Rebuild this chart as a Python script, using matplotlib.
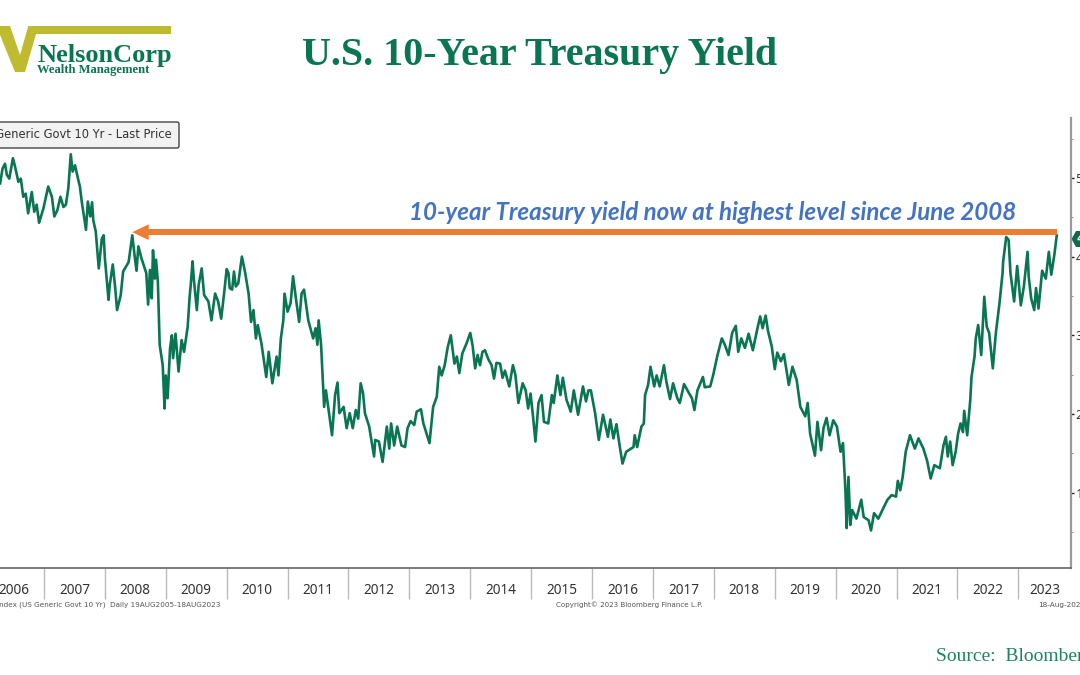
import matplotlib
matplotlib.use("Agg")
import matplotlib.pyplot as plt
from matplotlib.patches import Polygon, FancyBboxPatch

# decimal year / yield pairs
t1 = [2006.28,2006.32,2006.36,2006.39,2006.43,2006.49,2006.52,2006.58,2006.62,2006.66,2006.70,2006.74,2006.80,2006.84,2006.88,2006.92,2006.99,
      2007.07,2007.13,2007.17,2007.22,2007.27,2007.32,2007.36,2007.40,2007.44,2007.47,2007.51,2007.55,2007.59,2007.62,2007.69,2007.72,2007.76,2007.79,2007.81,2007.85,2007.90,2007.95,2007.98,
      2008.00,2008.06,2008.08,2008.13,2008.17,2008.20,2008.26,2008.30,2008.39,2008.45,2008.49,2008.52,2008.55,2008.60,2008.68,2008.71,2008.74,2008.77,2008.79,2008.82,2008.84,2008.87,2008.90,2008.95,2008.98,
      2009.00,2009.03,2009.07,2009.10,2009.12,2009.16,2009.21,2009.26,2009.30,2009.36,2009.39,2009.41,2009.44,2009.46,2009.51,2009.54,2009.59,2009.63,2009.70,2009.75,2009.81,2009.86,2009.91,2009.96]
y1 = [4.93,5.12,5.18,5.04,4.99,5.25,5.16,4.95,4.99,4.76,4.80,4.55,4.82,4.57,4.66,4.43,4.61,
      4.89,4.76,4.51,4.59,4.76,4.63,4.66,4.87,5.30,5.08,5.16,5.02,4.89,4.70,4.34,4.70,4.51,4.69,4.46,4.32,3.85,4.23,4.27,
      3.98,3.45,3.64,3.90,3.60,3.32,3.51,3.81,3.93,4.27,4.00,3.82,4.13,3.98,3.79,3.39,3.83,3.47,4.08,3.72,3.96,3.68,2.88,2.62,2.07,
      2.49,2.20,2.83,3.00,2.71,3.02,2.54,2.94,2.79,3.11,3.47,3.64,3.94,3.72,3.32,3.64,3.85,3.51,3.43,3.19,3.53,3.43,3.21,3.55]

t2 = [2010.00,2010.03,2010.05,2010.09,2010.12,2010.15,2010.19,2010.25,2010.30,2010.36,2010.40,2010.44,2010.48,2010.51,2010.57,2010.65,2010.69,2010.75,2010.82,2010.85,2010.89,2010.93,2010.95,
      2011.00,2011.05,2011.09,2011.14,2011.19,2011.23,2011.27,2011.34,2011.42,2011.46,2011.49,2011.51,2011.55,2011.60,2011.63,2011.67,2011.73,2011.78,2011.82,2011.85,2011.92,2011.97,
      2012.02,2012.07,2012.12,2012.16,2012.20,2012.24,2012.27,2012.34,2012.42,2012.44,2012.50,2012.56,2012.63,2012.67,2012.70,2012.75,2012.80,2012.87,2012.93,2012.97,
      2013.02,2013.08,2013.12,2013.19,2013.23,2013.33,2013.39,2013.45,2013.49,2013.53,2013.58,2013.63,2013.68,2013.74,2013.78,2013.82]
y2 = [3.84,3.79,3.60,3.58,3.81,3.62,3.66,4.00,3.81,3.53,3.17,3.32,2.96,3.13,2.90,2.47,2.79,2.39,2.73,2.49,2.96,3.19,3.53,
      3.30,3.41,3.75,3.45,3.17,3.53,3.58,3.19,2.96,3.09,2.88,3.19,2.88,2.09,2.30,2.07,1.73,2.24,2.40,2.01,2.09,1.82,
      2.01,1.82,2.05,1.94,2.39,2.26,2.01,1.84,1.46,1.67,1.65,1.39,1.84,1.56,1.88,1.60,1.84,1.60,1.58,1.82,
      1.91,1.86,2.03,2.06,1.88,1.63,2.09,2.22,2.60,2.49,2.62,2.85,3.00,2.64,2.73,2.52]

t3 = [2013.87,2013.94,2014.00,2014.04,2014.08,2014.12,2014.16,2014.20,2014.24,2014.30,2014.35,2014.39,2014.43,2014.49,2014.53,2014.57,2014.64,2014.70,2014.74,2014.79,2014.86,2014.91,2014.95,2014.99,
      2015.03,2015.07,2015.12,2015.17,2015.21,2015.28,2015.34,2015.37,2015.43,2015.48,2015.52,2015.58,2015.65,2015.70,2015.77,2015.85,2015.90,2015.94,2015.98,
      2016.05,2016.11,2016.18,2016.26,2016.30,2016.35,2016.40,2016.46,2016.50,2016.56,2016.68,2016.70,2016.74,2016.81,2016.85,2016.87,2016.92,2016.96,
      2017.02,2017.06,2017.11,2017.18,2017.22,2017.28,2017.33,2017.40,2017.44]
y3 = [2.77,2.90,3.03,2.86,2.58,2.75,2.62,2.79,2.81,2.69,2.62,2.45,2.65,2.64,2.46,2.55,2.35,2.62,2.50,2.14,2.39,2.30,2.07,2.26,
      1.97,1.65,2.14,2.24,1.90,1.88,2.24,2.14,2.49,2.24,2.46,2.18,2.03,2.30,1.99,2.35,2.16,2.30,2.30,
      2.01,1.67,1.99,1.71,1.93,1.69,1.87,1.56,1.37,1.52,1.58,1.73,1.58,1.84,1.88,2.24,2.37,2.60,
      2.35,2.49,2.35,2.62,2.41,2.19,2.39,2.20,2.14]

t4 = [2017.51,2017.58,2017.64,2017.68,2017.73,2017.82,2017.85,2017.94,2017.99,
      2018.06,2018.13,2018.18,2018.24,2018.30,2018.36,2018.40,2018.45,2018.51,2018.57,2018.64,2018.71,2018.76,2018.80,2018.85,2018.89,2018.95,
      2019.00,2019.04,2019.10,2019.15,2019.23,2019.29,2019.36,2019.42,2019.50,2019.54,2019.58,2019.66,2019.70,2019.76,2019.80,2019.85,2019.90,2019.96,
      2020.02,2020.08,2020.12,2020.16,2020.18,2020.21,2020.24,2020.27,2020.34,2020.42,2020.46,2020.54,2020.58,2020.63,2020.70,2020.78,2020.85,2020.92,2020.99,
      2021.02,2021.06]
y4 = [2.38,2.28,2.20,2.05,2.30,2.47,2.34,2.35,2.50,
      2.75,2.96,2.88,2.75,3.03,3.12,2.79,2.96,2.84,3.02,2.81,3.07,3.24,3.09,3.25,3.05,2.86,
      2.57,2.78,2.67,2.76,2.37,2.60,2.43,2.09,1.97,2.14,1.75,1.47,1.90,1.54,1.82,1.95,1.73,1.92,
      1.84,1.52,1.63,1.03,0.55,1.20,0.59,0.78,0.67,0.91,0.69,0.65,0.52,0.74,0.67,0.80,0.91,0.97,0.95,
      1.15,1.03]

t5 = [2021.10,2021.15,2021.22,2021.30,2021.36,2021.44,2021.50,2021.56,2021.62,2021.71,2021.77,2021.81,2021.84,2021.88,2021.92,2021.97,
      2022.01,2022.05,2022.09,2022.11,2022.16,2022.21,2022.23,2022.28,2022.30,2022.34,2022.39,2022.44,2022.48,2022.52,2022.58,2022.63,2022.69,2022.74,2022.75,2022.80,2022.84,2022.87,2022.93,2022.98,
      2023.04,2023.09,2023.15,2023.17,2023.21,2023.26,2023.29,2023.33,2023.39,2023.45,2023.50,2023.54,2023.59,2023.63]
y5 = [1.20,1.52,1.73,1.56,1.69,1.56,1.41,1.18,1.35,1.31,1.60,1.71,1.46,1.65,1.35,1.52,
      1.75,1.88,1.77,2.04,1.73,2.18,2.47,2.73,2.96,3.13,2.75,3.49,3.11,3.03,2.58,3.03,3.41,3.79,3.94,4.25,4.21,3.79,3.43,3.88,
      3.38,3.62,4.06,3.74,3.47,3.32,3.60,3.34,3.82,3.72,4.06,3.77,4.02,4.27]

dates = t1 + t2 + t3 + t4 + t5
yields = y1 + y2 + y3 + y4 + y5

year_ticks = list(range(2007, 2024))
year_labels = [str(y) for y in range(2006, 2024)]
label_pos = [y + 0.5 for y in range(2006, 2023)] + [2023.43]
major_y = [1, 2, 3, 4, 5]
minor_y = [0.5, 1.5, 2.5, 3.5, 4.5, 5.5]
arrow_y = 4.31
arrow_from = 2023.63
arrow_to = 2008.45

GREEN = "#0a7553"
ORANGE = "#ed7d31"
W, H = 1080, 675

fig = plt.figure(figsize=(10.8, 6.75), dpi=100)

# pixel overlay for the logo, title and footer
bg = fig.add_axes([0, 0, 1, 1])
bg.set_xlim(0, W)
bg.set_ylim(H, 0)
bg.axis("off")

logo = [(0, 26), (10, 26), (20, 55), (28.3, 26), (171, 26), (171, 34), (36, 34), (25, 72), (15, 72), (0, 35)]
bg.add_patch(Polygon(logo, closed=True, color="#bfbb30", lw=0))
bg.text(37, 62, "NelsonCorp", family="Liberation Serif", weight="bold", fontsize=19, color=GREEN, va="baseline")
bg.text(37, 72.5, "Wealth Management", family="Liberation Serif", weight="bold", fontsize=9.1, color=GREEN, va="baseline")
bg.text(540, 65, "U.S. 10-Year Treasury Yield", family="Liberation Serif", weight="bold", fontsize=28.8,
        color=GREEN, ha="center", va="baseline")

bg.text(936, 661, "Source:  Bloomberg", family="Liberation Serif", fontsize=14, color="#1c8560", va="baseline")
bg.text(220, 605, "USGG10YR Index (US Generic Govt 10 Yr)  Daily 19AUG2005-18AUG2023", family="DejaVu Sans",
        fontsize=5.2, color="#555555", ha="right", va="center")
bg.text(629, 605, "Copyright\u00a9 2023 Bloomberg Finance L.P.", family="DejaVu Sans", fontsize=5.1,
        color="#555555", ha="center", va="center")
bg.text(1038, 605, "18-Aug-2023", family="DejaVu Sans", fontsize=5.2, color="#555555", va="center")

# main chart
ax = fig.add_axes([0, (H - 568) / H, 1070.7 / W, 450 / H])
ax.patch.set_alpha(0)
ax.plot(dates, yields, color=GREEN, lw=1.9, solid_joinstyle="round")
ax.set_xlim(2006.278, 2023.859)
ax.set_ylim(0.043, 5.761)

for s in ["top", "left"]:
    ax.spines[s].set_visible(False)
ax.spines["bottom"].set_color("#666666")
ax.spines["bottom"].set_linewidth(1.2)
ax.spines["right"].set_color("#999999")
ax.spines["right"].set_linewidth(1.6)

ax.set_xticks(year_ticks)
ax.set_xticklabels([])
ax.set_xticks(label_pos, minor=True)
ax.set_xticklabels(year_labels, minor=True, family="Noto Sans", fontsize=9.8, color="#333333")
ax.tick_params(axis="x", which="major", length=22.3, width=1, color="#bbbbbb")
ax.tick_params(axis="x", which="minor", length=0, pad=11)

ax.yaxis.tick_right()
ax.set_yticks(major_y)
ax.set_yticklabels([str(v) for v in major_y], family="Noto Sans", fontsize=9.5, color="#333333")
ax.set_yticks(minor_y, minor=True)
ax.tick_params(axis="y", which="major", length=2.5, width=1, color="#222222", pad=1)
ax.tick_params(axis="y", which="minor", length=1.5, width=0.7, color="#888888")

# arrow back to the June 2008 level
ax.plot([arrow_to + 0.2, arrow_from], [arrow_y, arrow_y], color=ORANGE, lw=4.3, solid_capstyle="butt")
ax.fill([arrow_to, arrow_to + 0.27, arrow_to + 0.27], [arrow_y, arrow_y + 0.1, arrow_y - 0.1], color=ORANGE, lw=0)
ax.text(2013.0, 4.47, "10-year Treasury yield now at highest level since June 2008", family="Lato",
        style="italic", weight="bold", fontsize=17.4, color="#4472c4", va="baseline")

# legend box, runs off the left edge
bg.add_patch(FancyBboxPatch((-20, 122), 199, 26, boxstyle="round,pad=0,rounding_size=2", fc="#f2f2f2", ec="#444444", lw=1, zorder=5))
bg.text(172, 135, "US Generic Govt 10 Yr - Last Price", family="DejaVu Sans", fontsize=8.3, color="#333333",
        ha="right", va="center", zorder=6)

# last price tag
tag = [(1071.5, 239), (1076, 231), (1085, 231), (1085, 247), (1076, 247)]
bg.add_patch(Polygon(tag, closed=True, color="#0b6b4c", lw=0, zorder=5))
bg.text(1076.5, 239, "4.26", family="DejaVu Sans", weight="bold", fontsize=8, color="white", va="center", zorder=6)

fig.savefig("out.png", dpi=100)
